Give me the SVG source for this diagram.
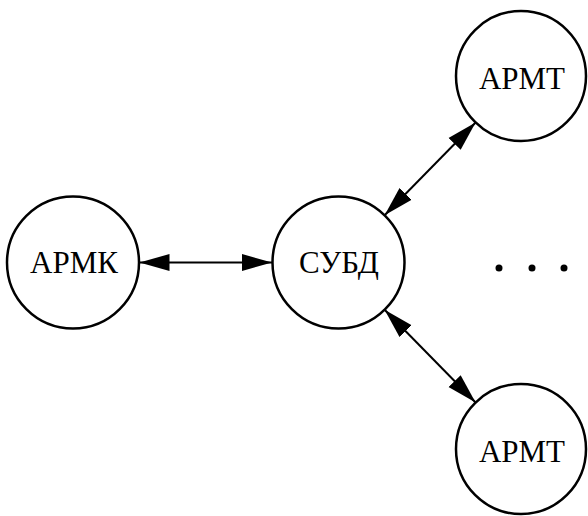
<svg xmlns="http://www.w3.org/2000/svg" width="588" height="516" viewBox="0 0 588 516">
<style>
.node circle{fill:#fff;stroke:#000;stroke-width:2.5}
.node text{font-family:"Liberation Serif","Times New Roman",serif;font-size:31px;fill:#000;text-anchor:middle}
.edge{stroke:#000;stroke-width:2;fill:none;marker-start:url(#arr);marker-end:url(#arr)}
</style>
<defs>
<marker id="arr" markerUnits="userSpaceOnUse" markerWidth="31" markerHeight="19" refX="30" refY="9" orient="auto-start-reverse" viewBox="0 0 31 19">
<path d="M0,0.5 L30,9 L0,17.5 z" fill="#000"/>
</marker>
</defs>
<g id="edges">
<line class="edge" x1="139.5" y1="262.5" x2="272" y2="262.5"/>
<line class="edge" x1="384.6" y1="215.3" x2="475.6" y2="122.5"/>
<line class="edge" x1="384.6" y1="309.7" x2="475.6" y2="402.5"/>
</g>
<g id="armk" class="node"><circle cx="73" cy="262.5" r="66"/><text x="74" y="273">АРМК</text></g>
<g id="subd" class="node"><circle cx="338.5" cy="262.5" r="66"/><text x="339" y="273">СУБД</text></g>
<g id="armt1" class="node"><circle cx="521" cy="76" r="65"/><text x="522" y="89">АРМТ</text></g>
<g id="armt2" class="node"><circle cx="521" cy="449" r="65"/><text x="522" y="462">АРМТ</text></g>
<g id="dots">
<circle cx="499" cy="268" r="3.5"/><circle cx="532" cy="268" r="3.5"/><circle cx="564" cy="268" r="3.5"/>
</g>
</svg>
